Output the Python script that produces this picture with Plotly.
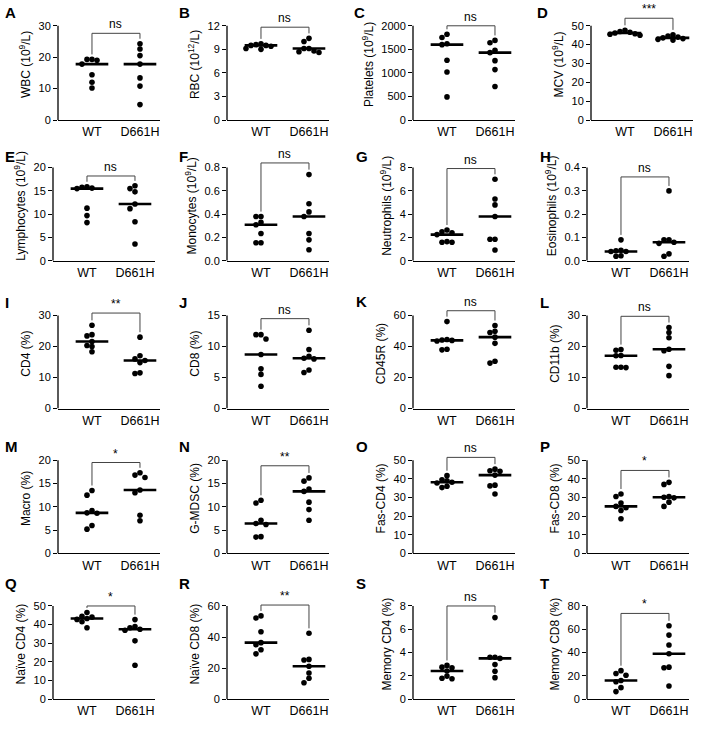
import numpy as np
import plotly.graph_objects as go

# ---------------- data ----------------
groups = ["WT", "D661H"]
letters = list("ABCDEFGHIJKLMNOPQRST")
ylabels = ["WBC (10<sup>9</sup>/L)", "RBC (10<sup>12</sup>/L)", "Platelets (10<sup>9</sup>/L)",
           "MCV (10<sup>9</sup>/L)", "Lymphocytes (10<sup>9</sup>/L)", "Monocytes (10<sup>9</sup>/L)",
           "Neutrophils (10<sup>9</sup>/L)", "Eosinophils (10<sup>9</sup>/L)", "CD4 (%)", "CD8 (%)",
           "CD45R (%)", "CD11b (%)", "Macro (%)", "G-MDSC (%)", "Fas-CD4 (%)", "Fas-CD8 (%)",
           "Naïve CD4 (%)", "Naïve CD8 (%)", "Memory CD4 (%)", "Memory CD8 (%)"]
sig = ["ns", "ns", "ns", "***", "ns", "ns", "ns", "ns", "**", "ns",
       "ns", "ns", "*", "**", "ns", "*", "*", "**", "ns", "*"]

wbc_wt = [19.3, 19.3, 19.0, 17.8, 14.4, 12.0, 10.2]
wbc_mut = [24.3, 22.6, 20.5, 17.8, 13.4, 10.8, 4.9]
rbc_wt = [9.7, 9.6, 9.5, 9.5, 9.4, 9.1, 9.0]
rbc_mut = [10.4, 10.0, 9.1, 9.1, 8.8, 8.7, 8.6]
plt_wt = [1820, 1750, 1620, 1600, 1270, 1020, 490]
plt_mut = [1690, 1640, 1480, 1430, 1260, 1070, 710]
mcv_wt = [47.6, 47.0, 46.6, 46.2, 45.8, 45.5, 45.0]
mcv_mut = [45.2, 44.5, 44.0, 43.6, 43.2, 42.8, 42.4]
lym_wt = [15.9, 15.8, 15.6, 15.5, 11.3, 9.7, 8.2]
lym_mut = [16.1, 15.5, 14.8, 12.2, 11.2, 8.4, 3.6]
mono_wt = [0.38, 0.38, 0.33, 0.31, 0.235, 0.155, 0.155]
mono_mut = [0.74, 0.49, 0.42, 0.38, 0.235, 0.18, 0.095]
neu_wt = [2.65, 2.5, 2.4, 2.25, 1.65, 1.6, 1.6]
neu_mut = [7.0, 5.3, 4.8, 3.8, 1.85, 1.85, 0.93]
eos_wt = [0.09, 0.045, 0.043, 0.04, 0.04, 0.022, 0.02]
eos_mut = [0.30, 0.09, 0.09, 0.08, 0.075, 0.03, 0.02]
cd4_wt = [26.8, 23.8, 23.4, 21.6, 20.3, 20.0, 18.3]
cd4_mut = [23.0, 17.0, 16.0, 15.5, 14.8, 11.5, 11.3]
cd8_wt = [11.9, 11.9, 11.2, 8.7, 6.4, 5.5, 3.6]
cd8_mut = [12.6, 9.5, 8.4, 8.1, 8.0, 6.2, 5.8]
cd45r_wt = [56.0, 44.5, 44.2, 43.9, 43.5, 38.2, 37.8]
cd45r_mut = [53.5, 49.8, 49.0, 46.0, 42.0, 30.5, 29.3]
cd11b_wt = [19.0, 18.8, 17.1, 17.0, 13.3, 13.3, 13.2]
cd11b_mut = [26.1, 24.5, 22.8, 19.1, 18.6, 13.6, 10.6]
macro_wt = [13.5, 12.5, 9.2, 8.7, 8.6, 6.0, 5.2]
macro_mut = [17.3, 16.8, 16.3, 13.6, 13.0, 8.2, 7.0]
gmdsc_wt = [11.4, 10.8, 7.1, 6.4, 6.2, 3.6, 3.5]
gmdsc_mut = [16.2, 15.5, 13.8, 13.3, 11.0, 9.4, 7.1]
fascd4_wt = [41.7, 39.5, 39.0, 38.2, 37.8, 36.0, 35.3]
fascd4_mut = [45.2, 44.3, 44.0, 42.0, 36.6, 36.2, 31.9]
fascd8_wt = [31.9, 30.5, 27.0, 25.2, 24.5, 23.0, 18.6]
fascd8_mut = [38.1, 37.0, 30.5, 30.1, 29.8, 27.5, 25.2]
ncd4_wt = [46.5, 44.5, 44.0, 43.3, 42.8, 41.5, 38.3]
ncd4_mut = [42.7, 38.9, 38.3, 37.5, 37.0, 31.3, 18.2]
ncd8_wt = [53.6, 52.3, 43.4, 36.4, 35.0, 31.8, 29.2]
ncd8_mut = [42.4, 25.6, 25.2, 21.2, 16.9, 13.5, 10.6]
mcd4_wt = [2.9, 2.75, 2.7, 2.42, 1.98, 1.8, 1.75]
mcd4_mut = [7.0, 3.6, 3.6, 3.5, 2.97, 2.4, 1.85]
mcd8_wt = [24.5, 22.0, 20.5, 16.1, 15.0, 9.9, 6.5]
mcd8_mut = [63.0, 55.0, 46.5, 39.0, 27.5, 27.0, 11.3]

yticks = [
    [0, 10, 20, 30], [0, 3, 6, 9, 12], [0, 500, 1000, 1500, 2000], [0, 10, 20, 30, 40, 50],
    [0, 5, 10, 15, 20], [0.0, 0.2, 0.4, 0.6, 0.8], [0, 2, 4, 6, 8], [0.0, 0.1, 0.2, 0.3, 0.4],
    [0, 10, 20, 30], [0, 5, 10, 15], [0, 20, 40, 60], [0, 10, 20, 30],
    [0, 5, 10, 15, 20], [0, 5, 10, 15, 20], [0, 10, 20, 30, 40, 50], [0, 10, 20, 30, 40, 50],
    [0, 10, 20, 30, 40, 50], [0, 20, 40, 60], [0, 2, 4, 6, 8], [0, 20, 40, 60, 80],
]
yticktext = [
    ["0", "10", "20", "30"], ["0", "3", "6", "9", "12"], ["0", "500", "1000", "1500", "2000"],
    ["0", "10", "20", "30", "40", "50"], ["0", "5", "10", "15", "20"],
    ["0.0", "0.2", "0.4", "0.6", "0.8"], ["0", "2", "4", "6", "8"], ["0.0", "0.1", "0.2", "0.3", "0.4"],
    ["0", "10", "20", "30"], ["0", "5", "10", "15"], ["0", "20", "40", "60"], ["0", "10", "20", "30"],
    ["0", "5", "10", "15", "20"], ["0", "5", "10", "15", "20"], ["0", "10", "20", "30", "40", "50"],
    ["0", "10", "20", "30", "40", "50"], ["0", "10", "20", "30", "40", "50"], ["0", "20", "40", "60"],
    ["0", "2", "4", "6", "8"], ["0", "20", "40", "60", "80"],
]

series = [
    (wbc_wt, wbc_mut), (rbc_wt, rbc_mut), (plt_wt, plt_mut), (mcv_wt, mcv_mut),
    (lym_wt, lym_mut), (mono_wt, mono_mut), (neu_wt, neu_mut), (eos_wt, eos_mut),
    (cd4_wt, cd4_mut), (cd8_wt, cd8_mut), (cd45r_wt, cd45r_mut), (cd11b_wt, cd11b_mut),
    (macro_wt, macro_mut), (gmdsc_wt, gmdsc_mut), (fascd4_wt, fascd4_mut), (fascd8_wt, fascd8_mut),
    (ncd4_wt, ncd4_mut), (ncd8_wt, ncd8_mut), (mcd4_wt, mcd4_mut), (mcd8_wt, mcd8_mut),
]

# ---------------- layout (pixels) ----------------
W, H = 709, 729
col_x0 = [58, 227, 413, 591, 53, 227, 413, 587, 58, 227, 413, 587,
          58, 227, 413, 587, 53, 227, 413, 587]
row_y0 = [121, 263, 412, 558, 705]
row_len = [95, 94, 94, 94, 94]
XLEN = 102
XR = [-0.708, 1.417]
K = 1.18
bracket_frac = [0.92, 0.985, 1.0, 1.08, 0.91, 1.05, 0.99, 0.90, 1.025, 0.965,
                1.05, 0.99, 0.975, 0.94, 1.03, 0.89, 1.0, 1.01, 1.0, 0.92]
letter_pos = [(3, 13), (177, 13), (352, 13), (535, 13),
              (3, 158), (177, 158), (354, 158), (538, 158),
              (3, 305), (177, 305), (354, 304), (538, 305),
              (3, 450), (177, 450), (354, 450), (538, 450),
              (3, 588), (177, 588), (354, 588), (538, 588)]
FONT = "Arial, Liberation Sans, sans-serif"


def swarm(vals, ppu_y, ppu_x, diam=5.0, step=5.0):
    vals = np.asarray(vals, dtype=float)
    order = np.argsort(-vals, kind="stable")
    placed = []
    offs = np.zeros(len(vals))
    cands = [0] + [s * j for j in range(1, 12) for s in (-1, 1)]
    for idx in order:
        yp = vals[idx] * ppu_y
        for c in cands:
            dx = c * step
            if all(np.hypot(dx - px, yp - py) >= diam for px, py in placed):
                break
        placed.append((dx, yp))
        offs[idx] = dx / ppu_x
    return offs


fig = go.Figure()
layout = dict(width=W, height=H, margin=dict(l=0, r=0, t=0, b=0),
              paper_bgcolor="white", plot_bgcolor="white", showlegend=False,
              font=dict(family=FONT, color="black"))
shapes, annotations = [], []
ppu_x = XLEN / (XR[1] - XR[0])

for i in range(20):
    r, c = divmod(i, 4)
    sfx = "" if i == 0 else str(i + 1)
    xa, ya = "x" + sfx, "y" + sfx
    x0 = col_x0[i]
    y0 = row_y0[r]
    L = row_len[r]
    T = yticks[i][-1]
    top_px = y0 - L * K
    ppu_y = L / T
    layout["xaxis" + sfx] = dict(
        domain=[x0 / W, (x0 + XLEN) / W], range=XR, anchor=ya,
        tickvals=[0, 1], ticktext=groups, showline=True, linecolor="black", linewidth=1.3,
        ticks="", showgrid=False, zeroline=False, tickfont=dict(size=12.5, family=FONT),
        fixedrange=True)
    layout["yaxis" + sfx] = dict(
        domain=[1 - y0 / H, 1 - top_px / H], range=[0, T * K], anchor=xa,
        tickvals=yticks[i], ticktext=yticktext[i], ticks="outside", ticklen=4, tickwidth=1.2,
        tickcolor="black", showline=False, showgrid=False, zeroline=False,
        tickfont=dict(size=11, family=FONT),
        title=dict(text=ylabels[i], font=dict(size=12, family=FONT), standoff=5))
    # y axis line up to top tick
    shapes.append(dict(type="line", xref=xa + " domain", yref=ya, x0=0, x1=0, y0=0, y1=T,
                       line=dict(color="black", width=1.3)))
    wt, mut = series[i]
    for g, vals in enumerate((wt, mut)):
        offs = swarm(vals, ppu_y, ppu_x)
        fig.add_trace(go.Scatter(x=g + offs, y=vals, mode="markers", xaxis=xa, yaxis=ya,
                                 marker=dict(color="black", size=5.6), hoverinfo="y"))
        med = float(np.median(vals))
        fig.add_trace(go.Scatter(x=[g - 0.34, g + 0.34], y=[med, med], mode="lines",
                                 xaxis=xa, yaxis=ya, line=dict(color="black", width=2.6),
                                 hoverinfo="skip"))
    # significance bracket
    b = bracket_frac[i] * T
    gap = 5 / ppu_y
    legL = min(max(wt) + gap, b - 2 / ppu_y)
    legR = min(max(mut) + gap, b - 2 / ppu_y)
    fig.add_trace(go.Scatter(x=[0, 0, 1, 1], y=[legL, b, b, legR], mode="lines",
                             xaxis=xa, yaxis=ya, line=dict(color="#444", width=1),
                             hoverinfo="skip"))
    annotations.append(dict(x=0.5, y=b, xref=xa, yref=ya, text=sig[i], showarrow=False,
                            yanchor="bottom", yshift=0, font=dict(size=12, family=FONT)))
    lx, ly = letter_pos[i]
    annotations.append(dict(x=lx / W, y=1 - ly / H, xref="paper", yref="paper",
                            text="<b>" + letters[i] + "</b>", showarrow=False,
                            xanchor="left", yanchor="middle", font=dict(size=15, family=FONT)))

layout["shapes"] = shapes
layout["annotations"] = annotations
fig.update_layout(**layout)
fig.write_html("out.html")
